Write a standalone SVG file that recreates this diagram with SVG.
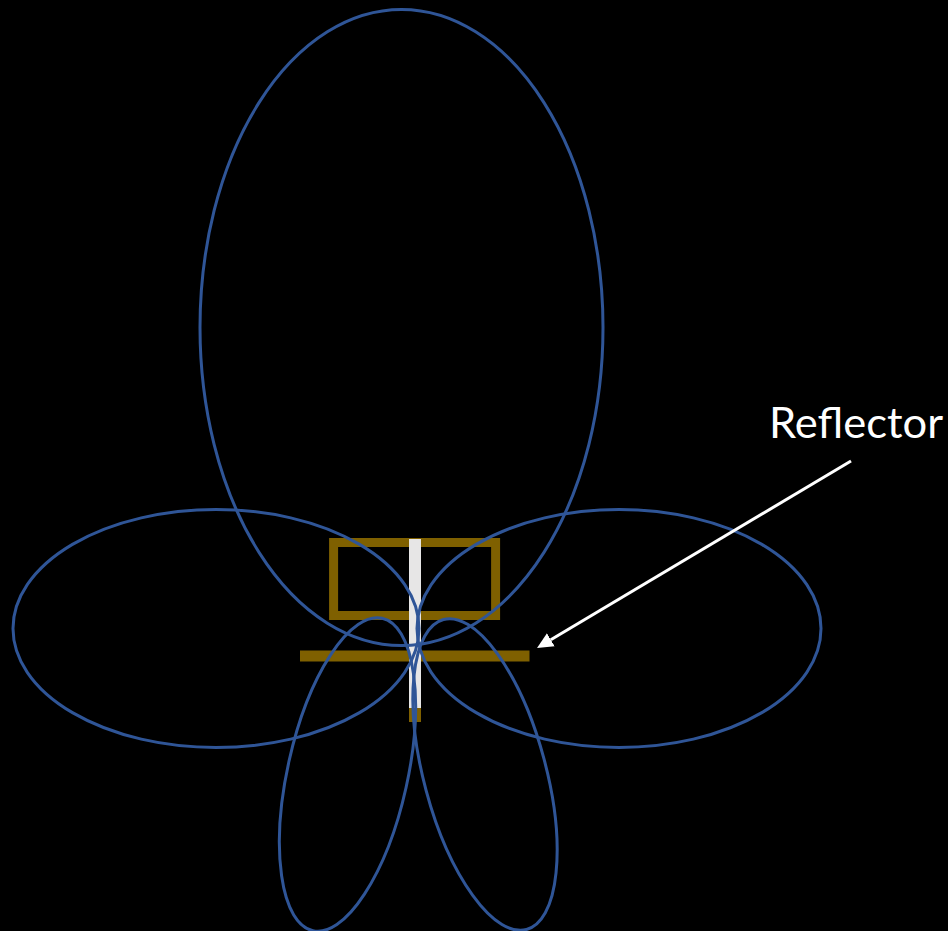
<svg xmlns="http://www.w3.org/2000/svg" width="948" height="931" viewBox="0 0 948 931">
<style>
.lobe{fill:none;stroke:#2f5597;stroke-width:3}
.brown{fill:#7f6000}
.label{font-family:"Lato","Open Sans",sans-serif;font-size:42px;fill:#fff}
</style>
<defs>
<marker id="ah" markerUnits="userSpaceOnUse" markerWidth="17" markerHeight="16" refX="0" refY="8" orient="auto"><path d="M0 0.5L16 8L0 15.5Z" fill="#fff"/></marker>
</defs>
<rect width="948" height="931" fill="#000"/>
<g id="driven-frame"><rect x="333.6" y="542.5" width="162" height="73" fill="none" stroke="#7f6000" stroke-width="9"/></g>
<g id="reflector"><rect class="brown" x="300" y="650.5" width="229.5" height="11"/></g>
<g id="element"><rect x="409" y="539" width="12" height="170" fill="#e7e6e6"/><rect class="brown" x="409" y="708" width="12" height="14"/></g>
<g id="lobes">
<ellipse id="lobe-top" class="lobe" cx="401.5" cy="327.5" rx="201.5" ry="318"/>
<ellipse id="lobe-left" class="lobe" cx="216" cy="628.5" rx="203" ry="119"/>
<ellipse id="lobe-right" class="lobe" cx="619" cy="628.5" rx="202" ry="119"/>
<ellipse id="lobe-bottom-left" class="lobe" cx="347.5" cy="774.5" rx="60" ry="160" transform="rotate(12.5 347.5 774.5)"/>
<ellipse id="lobe-bottom-right" class="lobe" cx="485" cy="774.5" rx="61" ry="160.5" transform="rotate(-15 485 774.5)"/>
</g>
<g id="connectors"><line x1="851" y1="461" x2="550.8" y2="639.8" stroke="#fff" stroke-width="3" marker-end="url(#ah)"/></g>
<g id="label-reflector"><text class="label" x="769" y="438" textLength="174" lengthAdjust="spacingAndGlyphs">Reflector</text></g>
</svg>
